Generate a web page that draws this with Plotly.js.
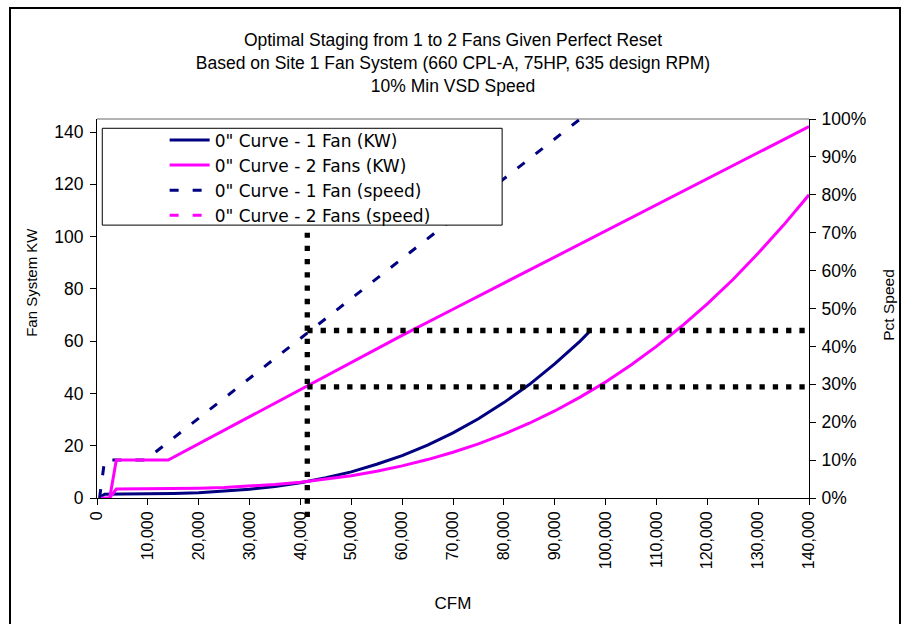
<!DOCTYPE html>
<html>
<head>
<meta charset="utf-8">
<script src="https://cdn.plot.ly/plotly-3.0.1.min.js"></script>
<style>
  html, body { margin: 0; padding: 0; background: #fff; }
  #wrap { position: relative; width: 904px; height: 624px; overflow: hidden; }
  #chart { width: 904px; height: 624px; }
  #frame { position: absolute; left: 9px; top: 7px; width: 892px; height: 640px;
           border: 2px solid #000; pointer-events: none; box-sizing: border-box; }
</style>
</head>
<body>
<div id="wrap">
  <div id="chart"></div>
  <div id="frame"></div>
</div>
<script>
// ---- data ----
// 1 fan, fan system KW
const cfm1Kw = [500, 1500, 5000, 10000, 15000, 20000, 25000, 30000, 35000, 40000, 45000, 50000,
                55000, 60000, 65000, 70000, 75000, 80000, 85000, 90000, 95000, 97000];
const kw1 = [0.3, 1.45, 1.5, 1.57, 1.73, 2.05, 2.57, 3.34, 4.43, 5.87, 7.72, 10.0,
             12.9, 16.2, 20.2, 24.9, 30.3, 36.5, 43.4, 51.3, 60.0, 64.0];
// 2 fans, fan system KW
const cfm2Kw = [500, 2500, 3800, 10000, 15000, 20000, 25000, 30000, 35000, 40000, 45000, 50000,
                55000, 60000, 65000, 70000, 75000, 80000, 85000, 90000, 95000, 100000,
                105000, 110000, 115000, 120000, 125000, 130000, 135000, 140000];
const kw2 = [0.0, 0.1, 3.4, 3.44, 3.54, 3.73, 4.04, 4.51, 5.16, 6.03, 7.14, 8.53,
             10.2, 12.3, 14.7, 17.5, 20.7, 24.4, 28.6, 33.3, 38.6, 44.4,
             50.9, 58.0, 65.8, 74.3, 83.5, 93.6, 104.4, 116.0];
// 1 fan, percent speed
const cfm1Spd = [500, 1500, 9500, 97000];
const spd1 = [0, 10, 10, 102.1];
// 2 fans, percent speed
const cfm2Spd = [2500, 3800, 14000, 20000, 30000, 40000, 50000, 60000, 70000, 80000,
                 90000, 100000, 110000, 120000, 130000, 140000];
const spd2 = [0, 10, 10, 14.3, 21.4, 28.6, 35.7, 42.9, 49.8, 56.7,
              63.6, 70.5, 77.4, 84.3, 91.1, 98.0];
// staging point guide lines
const stageCFM = [41350];
const stageLineEndCFM = 140000;
const stageSpeeds = [44.2, 29.3];       // horizontal guides (Pct Speed)
const stageVertSpeeds = [-5, 70];       // vertical guide extent (Pct Speed)

const seriesNames = ['0" Curve - 1 Fan (KW)', '0" Curve - 2 Fans (KW)',
                     '0" Curve - 1 Fan (speed)', '0" Curve - 2 Fans (speed)'];
const titleLines = ['Optimal Staging from 1 to 2 Fans Given Perfect Reset',
                    'Based on Site 1 Fan System (660 CPL-A, 75HP, 635 design RPM)',
                    '10% Min VSD Speed'];

const NAVY = '#000080', MAG = '#FF00FF';
const FONT = 'Arial, "Liberation Sans", sans-serif';
const WIDEFONT = '"DejaVu Sans", Verdana, sans-serif';
const dotDash = '5.3px,8px';

const traces = [
  { x: cfm1Kw, y: kw1, name: seriesNames[0], type: 'scatter', mode: 'lines',
    line: { color: NAVY, width: 3 }, yaxis: 'y' },
  { x: cfm2Kw, y: kw2, name: seriesNames[1], type: 'scatter', mode: 'lines',
    line: { color: MAG, width: 3 }, yaxis: 'y' },
  { x: cfm1Spd, y: spd1, name: seriesNames[2], type: 'scatter', mode: 'lines',
    line: { color: NAVY, width: 3, dash: '9px,14px' }, yaxis: 'y2' },
  { x: cfm2Spd, y: spd2, name: seriesNames[3], type: 'scatter', mode: 'lines',
    line: { color: MAG, width: 3 }, yaxis: 'y2', showlegend: false },
  { x: [null], y: [null], name: seriesNames[3], type: 'scatter', mode: 'lines',
    line: { color: MAG, width: 3, dash: '9px,14px' }, yaxis: 'y2' }
];
stageSpeeds.forEach(function (s) {
  traces.push({ x: [stageCFM[0], stageLineEndCFM], y: [s, s], type: 'scatter', mode: 'lines',
    line: { color: '#000', width: 5.3, dash: dotDash }, yaxis: 'y2', showlegend: false });
});

const axisCommon = {
  showgrid: false, zeroline: false, showline: true, linecolor: '#000', linewidth: 1,
  ticks: 'outside', ticklen: 6, tickcolor: '#000', tickwidth: 1,
  tickfont: { family: FONT, size: 17.5, color: '#000' }
};

const layout = {
  width: 904, height: 624,
  margin: { l: 97, r: 95, t: 119, b: 126 },
  paper_bgcolor: '#fff', plot_bgcolor: '#fff',
  font: { family: FONT, size: 15, color: '#000' },
  title: { text: titleLines.join('<br>'), font: { family: FONT, size: 17.5, color: '#000' },
           x: 0.5, xref: 'paper', xanchor: 'center', y: 1 - 46 / 624, yref: 'container', yanchor: 'top' },
  xaxis: Object.assign({}, axisCommon, {
    range: [0, 140000], dtick: 10000, tick0: 0, tickformat: ',d', tickangle: -90,
    tickfont: { family: FONT, size: 16, color: '#000' },
    title: { text: 'CFM', font: { family: FONT, size: 17 }, standoff: 28 }
  }),
  yaxis: Object.assign({}, axisCommon, {
    range: [0, 145], dtick: 20, tick0: 0, ticklabelstandoff: 3
  }),
  yaxis2: Object.assign({}, axisCommon, {
    overlaying: 'y', side: 'right', range: [0, 100], dtick: 10, tick0: 0, ticksuffix: '%',
    ticklabelstandoff: 2
  }),
  yaxis3: {
    overlaying: 'y', side: 'right', range: [0, 100], dtick: 10, tick0: 0,
    showgrid: false, zeroline: false, showline: false, showticklabels: false,
    ticks: 'inside', ticklen: 5, tickcolor: '#000', tickwidth: 1
  },
  showlegend: true,
  legend: {
    x: 0.095, y: 0.991, xanchor: 'left', yanchor: 'top',
    bgcolor: 'rgba(0,0,0,0)', borderwidth: 0, itemwidth: 40,
    font: { family: WIDEFONT, size: 17, color: '#000' }, traceorder: 'normal'
  },
  shapes: [
    // plot-area top border (gray)
    { type: 'line', xref: 'paper', yref: 'paper', x0: 0, x1: 1, y0: 1, y1: 1,
      line: { color: '#999', width: 1.5 }, layer: 'below' },
    // legend box
    { type: 'rect', xref: 'paper', yref: 'paper', x0: 0.0074, x1: 0.569, y0: 0.720, y1: 0.9755,
      line: { color: '#000', width: 1 }, fillcolor: '#fff', layer: 'above' },
    // vertical staging guide
    { type: 'line', xref: 'x', yref: 'y2 domain',
      x0: stageCFM[0], x1: stageCFM[0],
      y0: stageVertSpeeds[0] / 100, y1: stageVertSpeeds[1] / 100,
      line: { color: '#000', width: 5.3, dash: dotDash }, layer: 'above' }
  ],
  annotations: [
    { text: 'Fan System KW', xref: 'paper', yref: 'paper', x: -0.0915, y: 0.57,
      xanchor: 'center', yanchor: 'middle', textangle: -90, showarrow: false,
      font: { family: FONT, size: 15, color: '#000' } },
    { text: 'Pct Speed', xref: 'paper', yref: 'paper', x: 1.1124, y: 0.51,
      xanchor: 'center', yanchor: 'middle', textangle: -90, showarrow: false,
      font: { family: FONT, size: 15.5, color: '#000' } }
  ]
};

Plotly.newPlot('chart', traces, layout, { staticPlot: true, displayModeBar: false });
</script>
</body>
</html>
